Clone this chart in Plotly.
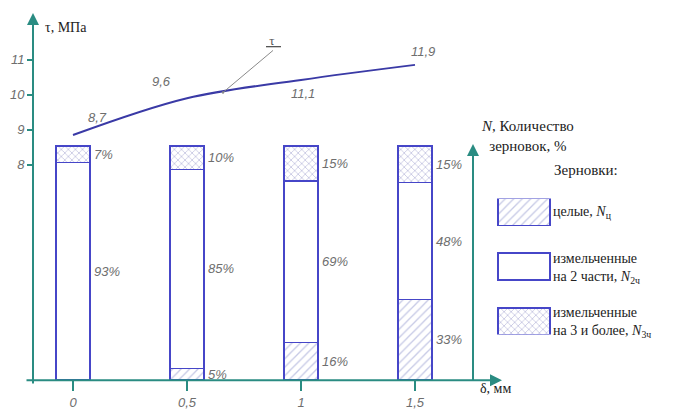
import numpy as np
import plotly.graph_objects as go

# ---------------- data ----------------
delta = [0, 0.5, 1, 1.5]
delta_ticktext = ["0", "0,5", "1", "1,5"]
whole = [0, 5, 16, 33]          # целые, Nц
split2 = [93, 85, 69, 48]       # на 2 части, N2ч
split3 = [7, 10, 15, 15]        # на 3 и более, N3ч
tau = [8.85, 9.9, 10.42, 10.85]
tau_labels = ["8,7", "9,6", "11,1", "11,9"]
tau_ticks = [8, 9, 10, 11]
series_names = [
    "целые, <i>N</i><sub>ц</sub>",
    "измельченные<br>на 2 части, <i>N</i><sub>2ч</sub>",
    "измельченные<br>на 3 и более, <i>N</i><sub>3ч</sub>",
]

# ---------------- style ----------------
OFF = 8                      # default page body margin
W, H = 685 - 2 * OFF, 418 - 2 * OFF
TEAL = "#2a8c82"
BLUE = "#4646c8"
CURVE = "#3a3aa6"
GRAY = "#6e6e6e"
SERIF = "Times New Roman, Liberation Serif, serif"
NUM = "Liberation Sans Narrow, Liberation Sans, sans-serif"
HATCH = "#8d93cc"
XHATCH = "#5c5cac"


def fx(x):   # reference window pixel -> paper x
    return (x - OFF) / W


def fy(y):   # reference window pixel -> paper y
    return 1 - (y - OFF) / H


XPX = 228.0    # pixels per mm of delta
TPX = 35.33    # pixels per MPa
NPX = 2.36     # pixels per percent

patterns = [
    dict(shape="/", fgcolor=HATCH, bgcolor="white", size=6, solidity=0.22),
    dict(shape="", bgcolor="white"),
    dict(shape="x", fgcolor=XHATCH, bgcolor="white", size=5, solidity=0.22),
]

fig = go.Figure()

for vals, pat in zip([whole, split2, split3], patterns):
    fig.add_trace(go.Bar(
        x=delta, y=vals, width=0.15, xaxis="x", yaxis="y2",
        marker=dict(color="white", line=dict(color=BLUE, width=1.5), pattern=pat),
        showlegend=False, hoverinfo="skip",
    ))

fig.add_trace(go.Scatter(
    x=delta, y=tau, mode="lines",
    line=dict(color=CURVE, width=2, shape="spline", smoothing=1.0),
    xaxis="x", yaxis="y", showlegend=False,
))

# legend swatches (separate small axes)
fig.add_trace(go.Bar(
    x=[1, 1, 1], y=[2, 1, 0], orientation="h", width=0.49, xaxis="x3", yaxis="y3",
    marker=dict(
        color="white", line=dict(color=BLUE, width=1.5),
        pattern=dict(shape=["/", "", "x"], fgcolor=[HATCH, HATCH, XHATCH],
                     bgcolor="white", size=[6, 6, 5], solidity=0.22),
    ),
    showlegend=False, hoverinfo="skip",
))

ann = []
# percent labels beside bars
for i, d in enumerate(delta):
    vals = [whole[i], split2[i], split3[i]]
    tot = sum(vals)
    cum = 0
    for v in vals:
        if v > 0:
            mid = (cum + v / 2) / tot * 100
            ann.append(dict(x=d, y=mid, xref="x", yref="y2", text=f"{v}%",
                            showarrow=False, xanchor="left", xshift=19,
                            font=dict(family=NUM, size=13, color=GRAY, style="italic")))
        cum += v

# tau value labels
tau_offsets = [(24, 18), (-26, 17), (2, -14), (8, 13)]
for d, t, lab, (dx, dy) in zip(delta, tau, tau_labels, tau_offsets):
    ann.append(dict(x=d, y=t, xref="x", yref="y", text=lab, showarrow=False,
                    xshift=dx, yshift=dy,
                    font=dict(family=NUM, size=13, color=GRAY, style="italic")))

# leader for tau
lead_x = 0.658
lead_y = float(np.interp(lead_x, delta, tau))
ann.append(dict(x=lead_x, y=lead_y, xref="x", yref="y", text="<u> τ  </u>",
                showarrow=True, ax=50, ay=-42, arrowhead=6, arrowsize=0.6,
                arrowwidth=1, arrowcolor="#8a8a8a", yanchor="bottom",
                font=dict(family=SERIF, size=13, color="#555")))

# axis arrows
arrow = dict(text="", showarrow=True, arrowhead=2, arrowsize=1.2, arrowwidth=2,
             arrowcolor=TEAL, xref="paper", yref="paper", axref="pixel", ayref="pixel")
ann.append(dict(arrow, x=fx(33), y=fy(13), ax=0, ay=372))
ann.append(dict(arrow, x=fx(502), y=fy(383), ax=-477, ay=0))
ann.append(dict(arrow, x=fx(473), y=fy(145), ax=0, ay=238))

txt = dict(xref="paper", yref="paper", showarrow=False)
ann.append(dict(txt, x=fx(43), y=fy(18), text="τ, МПа", xanchor="left",
                font=dict(family=SERIF, size=14, color="#222")))
ann.append(dict(txt, x=fx(478), y=fy(401), text="δ, мм", xanchor="left",
                font=dict(family=SERIF, size=14, color="#222")))
ann.append(dict(txt, x=fx(527), y=fy(117), text="<i>N</i>, Количество<br>зерновок, %",
                xanchor="center", align="center",
                font=dict(family=SERIF, size=15, color="#222")))
ann.append(dict(txt, x=fx(586), y=fy(171), text="Зерновки:", xanchor="center",
                font=dict(family=SERIF, size=15, color="#222")))
for name, yc in zip(series_names, [214, 270, 325]):
    ann.append(dict(txt, x=fx(551), y=fy(yc), text=name, xanchor="left", align="left",
                    yanchor="middle", font=dict(family=SERIF, size=14, color="#222")))

fig.update_layout(
    width=W, height=H, margin=dict(l=0, r=0, t=0, b=0),
    paper_bgcolor="white", plot_bgcolor="white",
    barmode="stack", barnorm="percent",
    annotations=ann,
    xaxis=dict(domain=[fx(33), 1], range=[-40 / XPX, (W + OFF - 73) / XPX], anchor="y",
               tickvals=delta, ticktext=delta_ticktext, ticks="outside", ticklen=10,
               tickwidth=1.5, tickcolor=TEAL, showgrid=False, zeroline=False, showline=False,
               tickfont=dict(family=NUM, size=13, color=GRAY, style="italic")),
    yaxis=dict(domain=[fy(383), 1], range=[8 - 217 / TPX, 8 + (166 - OFF) / TPX], anchor="x",
               tickvals=tau_ticks, ticks="outside", ticklen=5, tickwidth=1.5, tickcolor=TEAL,
               showgrid=False, zeroline=False, showline=False,
               tickfont=dict(family=NUM, size=13, color=GRAY, style="italic")),
    yaxis2=dict(domain=[fy(383), 1], range=[0, (383 - OFF) / NPX], overlaying="y", anchor="x",
                visible=False, showgrid=False, zeroline=False),
    xaxis3=dict(domain=[fx(497), fx(551)], range=[-2, 102], anchor="y3", visible=False),
    yaxis3=dict(domain=[fy(337), fy(200)], range=[-0.245, 2.245], anchor="x3",
                visible=False),
)

fig.write_html("out.html")
